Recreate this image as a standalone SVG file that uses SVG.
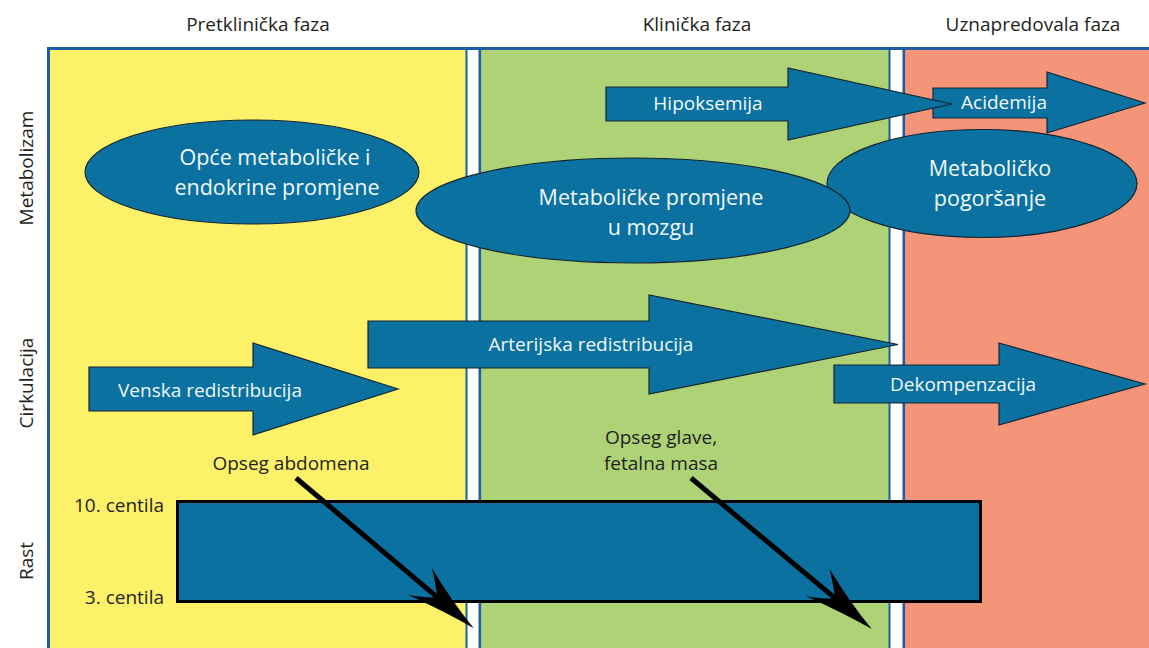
<svg xmlns="http://www.w3.org/2000/svg" width="1149" height="648" viewBox="0 0 1149 648">
<defs>
<style>
.lbl{font-family:"Open Sans","Noto Sans","Liberation Sans",sans-serif;font-size:19px;fill:#231f20}
.wt{font-family:"Open Sans","Noto Sans","Liberation Sans",sans-serif;font-size:19px;fill:#f2f8fb;text-anchor:middle}
.big{font-size:21.5px}
.shape{fill:#0a71a1;stroke:#142630;stroke-width:1.2}
.gap{fill:#ffffff}
.bl{stroke:#1d5ea6;fill:none}
.conn{stroke:#000;stroke-width:5;fill:none}
</style>
<marker id="barb" viewBox="-40 -25 85 50" refX="0" refY="0" markerWidth="85" markerHeight="50" markerUnits="userSpaceOnUse" orient="auto">
<path d="M38,0 Q5,-6 -33,-19 Q-18,-8 -10,0 Q-18,8 -34,17 Q5,6 38,0 Z" fill="#000"/>
</marker>
</defs>

<g id="panels">
<rect x="48" y="48" width="418" height="600" fill="#fdf16a"/>
<rect x="481" y="48" width="408" height="600" fill="#aed276"/>
<rect x="904" y="48" width="245" height="600" fill="#f4957a"/>
<rect class="gap" x="467" y="50" width="13" height="598"/>
<rect class="gap" x="890" y="50" width="13" height="598"/>
<line class="bl" x1="466.5" y1="48" x2="466.5" y2="648" stroke-width="2"/>
<line class="bl" x1="479.8" y1="48" x2="479.8" y2="648" stroke-width="2.6"/>
<line class="bl" x1="889.5" y1="48" x2="889.5" y2="648" stroke-width="2"/>
<line class="bl" x1="903.8" y1="48" x2="903.8" y2="648" stroke-width="2.6"/>
<line class="bl" x1="48.5" y1="47" x2="48.5" y2="648" stroke-width="3"/>
<line class="bl" x1="47" y1="48.5" x2="1149" y2="48.5" stroke-width="3"/>
</g>

<g id="headings">
<text class="lbl" x="258" y="31" text-anchor="middle">Pretklinička faza</text>
<text class="lbl" x="697" y="31" text-anchor="middle">Klinička faza</text>
<text class="lbl" x="1033" y="31" text-anchor="middle">Uznapredovala faza</text>
</g>

<g id="row-labels">
<text class="lbl" text-anchor="middle" transform="translate(33,168) rotate(-90)">Metabolizam</text>
<text class="lbl" text-anchor="middle" transform="translate(33,383) rotate(-90)">Cirkulacija</text>
<text class="lbl" text-anchor="middle" transform="translate(33,561) rotate(-90)">Rast</text>
</g>

<g id="node-opce">
<ellipse class="shape" cx="252" cy="172" rx="167" ry="52"/>
<text class="wt big" x="275" y="165">Opće metaboličke i</text>
<text class="wt big" x="277" y="195">endokrine promjene</text>
</g>

<g id="node-pogorsanje">
<ellipse class="shape" cx="982" cy="183.5" rx="155" ry="54"/>
<text class="wt big" x="990" y="176">Metaboličko</text>
<text class="wt big" x="990" y="206">pogoršanje</text>
</g>

<g id="node-mozak">
<ellipse class="shape" cx="633" cy="210.5" rx="217" ry="52.5"/>
<text class="wt big" x="651" y="205">Metaboličke promjene</text>
<text class="wt big" x="651" y="235">u mozgu</text>
</g>

<g id="node-acidemija">
<polygon class="shape" points="933,88 1047,88 1047,72 1145,103 1047,133 1047,118 933,118"/>
<text class="wt" x="1004" y="109">Acidemija</text>
</g>

<g id="node-hipoksemija">
<polygon class="shape" points="606,87 788,87 788,68 952,104 788,140 788,121 606,121"/>
<text class="wt" x="708" y="110">Hipoksemija</text>
</g>

<g id="node-venska">
<polygon class="shape" points="89,367 253,367 253,343 398,389 253,435 253,411 89,411"/>
<text class="wt" x="210" y="397">Venska redistribucija</text>
</g>

<g id="node-arterijska">
<polygon class="shape" points="368,321 649,321 649,295 898,344.5 649,394 649,368 368,368"/>
<text class="wt" x="591" y="351">Arterijska redistribucija</text>
</g>

<g id="node-dekompenzacija">
<polygon class="shape" points="834,365 999,365 999,343 1145,384 999,425 999,403 834,403"/>
<text class="wt" x="963" y="391">Dekompenzacija</text>
</g>

<g id="node-rast">
<rect x="177.5" y="501.5" width="803" height="100" fill="#0a71a1" stroke="#000" stroke-width="3"/>
<text class="lbl" x="164" y="512" text-anchor="end">10. centila</text>
<text class="lbl" x="164" y="604" text-anchor="end">3. centila</text>
</g>

<g id="node-abdomen">
<text class="lbl" x="291" y="470" text-anchor="middle">Opseg abdomena</text>
</g>

<g id="node-glava">
<text class="lbl" x="661" y="444" text-anchor="middle">Opseg glave,</text>
<text class="lbl" x="661" y="470" text-anchor="middle">fetalna masa</text>
</g>

<g id="connectors">
<line class="conn" x1="296" y1="478" x2="444.8" y2="603.7" marker-end="url(#barb)"/>
<line class="conn" x1="691" y1="478" x2="842.7" y2="604.7" marker-end="url(#barb)"/>
</g>
</svg>
